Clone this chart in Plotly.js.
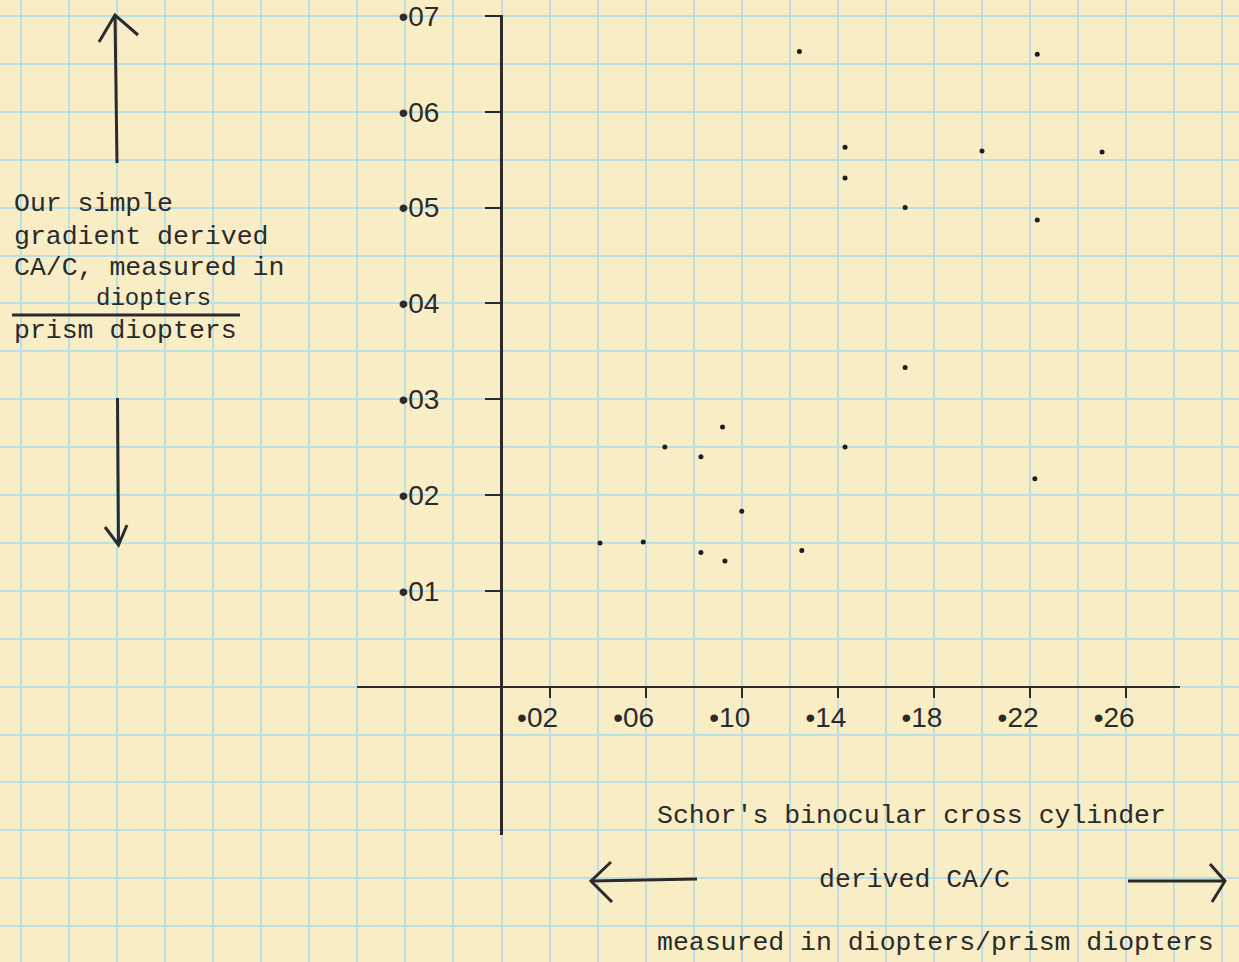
<!DOCTYPE html>
<html>
<head>
<meta charset="utf-8">
<script src="https://cdn.plot.ly/plotly-3.0.1.min.js"></script>
<style>html,body{margin:0;padding:0;background:#f9edc6;}#chart{width:1239px;height:962px;}</style>
</head>
<body>
<div id="chart"></div>
<script>
// Data
const schorCAC = [0.041, 0.059, 0.068, 0.083, 0.083, 0.092, 0.093, 0.100, 0.124, 0.125, 0.143, 0.143, 0.143, 0.168, 0.168, 0.200, 0.223, 0.223, 0.222, 0.250];
const gradientCAC = [0.0150, 0.0151, 0.0250, 0.0240, 0.0140, 0.0271, 0.0131, 0.0183, 0.0663, 0.0142, 0.0563, 0.0531, 0.0250, 0.0500, 0.0333, 0.0559, 0.0660, 0.0487, 0.0217, 0.0558];

const xTickVals = [0.02, 0.06, 0.10, 0.14, 0.18, 0.22, 0.26];
const xTickText = ['•02', '•06', '•10', '•14', '•18', '•22', '•26'];
const yTickVals = [0.01, 0.02, 0.03, 0.04, 0.05, 0.06, 0.07];
const yTickText = ['•01', '•02', '•03', '•04', '•05', '•06', '•07'];

const yTitleLines = ['Our simple', 'gradient derived', 'CA/C, measured in'];
const yTitleNumerator = 'diopters';
const yTitleDenominator = 'prism diopters';
const xTitleLines = ["Schor's binocular cross cylinder", 'derived CA/C', 'measured in diopters/prism diopters'];

const W = 1239, H = 962;
const ink = '#2b2b2b';
const typeFont = {family: '"Courier New", "Nimbus Mono PS", FreeMono, "Liberation Mono", monospace', size: 26.5, color: ink};
const tickFont = {family: '"Liberation Sans", Arial, sans-serif', size: 28, color: ink};

function px(x) { return x / W; }
function py(y) { return 1 - y / H; }

const annotations = [];
const lineY = [204, 237, 268];
yTitleLines.forEach((t, i) => annotations.push({text: t, xref: 'paper', yref: 'paper', x: px(12), y: py(lineY[i]), xanchor: 'left', yanchor: 'middle', showarrow: false, font: typeFont}));
annotations.push({text: yTitleNumerator, xref: 'paper', yref: 'paper', x: px(153), y: py(299), xanchor: 'center', yanchor: 'middle', showarrow: false, font: Object.assign({}, typeFont, {size: 24})});
annotations.push({text: yTitleDenominator, xref: 'paper', yref: 'paper', x: px(12), y: py(331), xanchor: 'left', yanchor: 'middle', showarrow: false, font: typeFont});
annotations.push({text: xTitleLines[0], xref: 'paper', yref: 'paper', x: px(655), y: py(816), xanchor: 'left', yanchor: 'middle', showarrow: false, font: typeFont});
annotations.push({text: xTitleLines[1], xref: 'paper', yref: 'paper', x: px(817), y: py(880), xanchor: 'left', yanchor: 'middle', showarrow: false, font: typeFont});
annotations.push({text: xTitleLines[2], xref: 'paper', yref: 'paper', x: px(655), y: py(943), xanchor: 'left', yanchor: 'middle', showarrow: false, font: typeFont});

function pathPx(points) {
  return points.map((p, i) => (i ? 'L' : 'M') + px(p[0]).toFixed(5) + ',' + py(p[1]).toFixed(5)).join(' ');
}
const arrowLine = {color: ink, width: 3};
const shapes = [
  // fraction bar
  {type: 'line', xref: 'paper', yref: 'paper', x0: px(12), x1: px(240), y0: py(315), y1: py(315), line: {color: ink, width: 3}},
  // up arrow
  {type: 'path', xref: 'paper', yref: 'paper', path: pathPx([[117, 163], [115, 15]]), line: arrowLine},
  {type: 'path', xref: 'paper', yref: 'paper', path: pathPx([[99, 42], [115, 15], [138, 35]]), line: arrowLine},
  // down arrow
  {type: 'path', xref: 'paper', yref: 'paper', path: pathPx([[117.5, 398], [118.5, 545]]), line: arrowLine},
  {type: 'path', xref: 'paper', yref: 'paper', path: pathPx([[105, 527], [118.5, 545], [127, 525]]), line: arrowLine},
  // left arrow
  {type: 'path', xref: 'paper', yref: 'paper', path: pathPx([[591, 881], [697, 879]]), line: arrowLine},
  {type: 'path', xref: 'paper', yref: 'paper', path: pathPx([[611, 862], [591, 881], [612, 902]]), line: arrowLine},
  // right arrow
  {type: 'path', xref: 'paper', yref: 'paper', path: pathPx([[1128, 881], [1225, 881]]), line: arrowLine},
  {type: 'path', xref: 'paper', yref: 'paper', path: pathPx([[1210, 864], [1225, 881], [1212, 902]]), line: arrowLine}
];

// pixel calibration of the graph paper: origin at (501.5, 686.6); 48.05 px per 0.02 in x, 47.9 px per 0.005 in y
const ox = 501.5, oy = 686.6, sx = 48.05 / 0.02, sy = 47.9 / 0.005;
const xv = p => (p - ox) / sx;
const yv = p => (oy - p) / sy;

// empty trace so the full-page graph-paper subplot is created
const paperTrace = {type: 'scatter', mode: 'markers', x: [], y: [], xaxis: 'x', yaxis: 'y', hoverinfo: 'skip', showlegend: false};
const trace = {
  type: 'scatter', mode: 'markers', x: schorCAC, y: gradientCAC, xaxis: 'x2', yaxis: 'y2',
  marker: {size: 5, color: '#1e1e1e'}, hoverinfo: 'x+y'
};

const gridColor = '#bcdfe4';
const layout = {
  width: W, height: H,
  margin: {l: 0, r: 0, t: 0, b: 0, pad: 0},
  paper_bgcolor: '#f9edc6', plot_bgcolor: 'rgba(0,0,0,0)',
  showlegend: false,
  xaxis: {domain: [0, 1], range: [xv(0), xv(W)], tickmode: 'linear', tick0: 0, dtick: 0.02, showgrid: true, gridcolor: gridColor, gridwidth: 2,
          zeroline: false, showline: false, showticklabels: false, ticks: '', fixedrange: true, anchor: 'y'},
  yaxis: {domain: [0, 1], range: [yv(H), yv(0)], tickmode: 'linear', tick0: 0, dtick: 0.005, showgrid: true, gridcolor: gridColor, gridwidth: 2,
          zeroline: false, showline: false, showticklabels: false, ticks: '', fixedrange: true, anchor: 'x'},
  xaxis2: {domain: [px(357), px(1180)], range: [xv(357), xv(1180)], anchor: 'free', position: py(oy),
           showgrid: false, zeroline: false, showline: true, linecolor: ink, linewidth: 2.5,
           ticks: 'outside', ticklen: 10, tickwidth: 2, tickcolor: ink, tickmode: 'array', tickvals: xTickVals, ticktext: xTickText,
           tickfont: tickFont, ticklabelshift: -12, ticklabelstandoff: -5, fixedrange: true},
  yaxis2: {domain: [py(835), py(15)], range: [yv(835), yv(15)], anchor: 'free', position: px(501),
           showgrid: false, zeroline: false, showline: true, linecolor: ink, linewidth: 2.5,
           ticks: 'outside', ticklen: 15, tickwidth: 2, tickcolor: ink, tickmode: 'array', tickvals: yTickVals, ticktext: yTickText,
           tickfont: tickFont, ticklabelstandoff: 40, fixedrange: true},
  annotations: annotations,
  shapes: shapes
};

Plotly.newPlot('chart', [paperTrace, trace], layout, {displayModeBar: false, staticPlot: true});
</script>
</body>
</html>
